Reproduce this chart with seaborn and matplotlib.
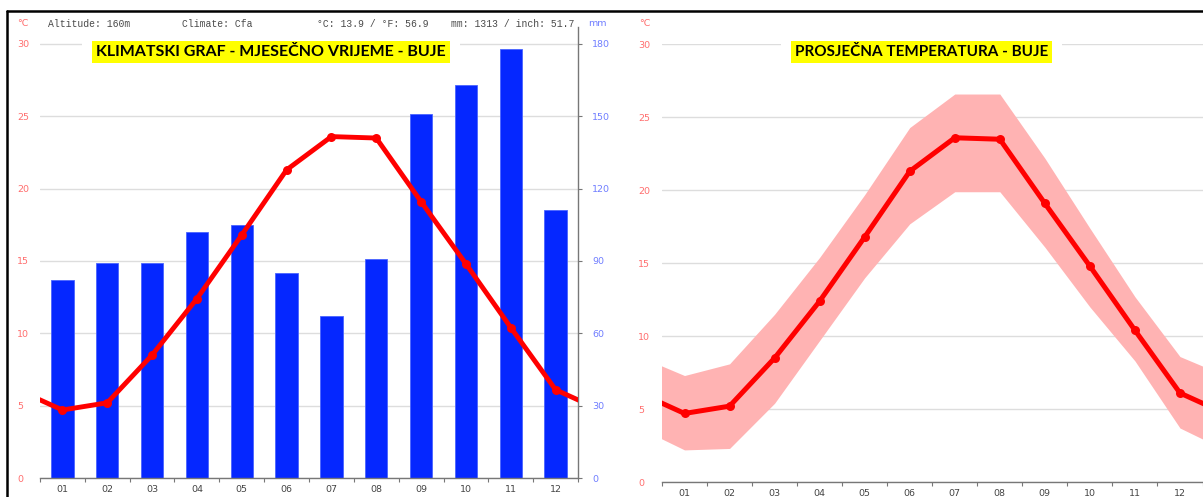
import matplotlib
matplotlib.use("Agg")
import matplotlib.pyplot as plt
from matplotlib.lines import Line2D
import seaborn as sns

# ---- data -------------------------------------------------------------
months = ["01", "02", "03", "04", "05", "06", "07", "08", "09", "10", "11", "12"]
temp_mean = [4.7, 5.2, 8.5, 12.4, 16.8, 21.3, 23.6, 23.5, 19.1, 14.8, 10.4, 6.1]
temp_min = [2.2, 2.3, 5.4, 9.7, 14.0, 17.7, 19.9, 19.9, 16.1, 12.0, 8.3, 3.7]
temp_max = [7.3, 8.1, 11.5, 15.4, 19.7, 24.3, 26.6, 26.6, 22.2, 17.4, 12.7, 8.6]
precip_mm = [82, 89, 89, 102, 105, 85, 67, 91, 151, 163, 178, 111]

temp_ticks = [0, 5, 10, 15, 20, 25, 30]
precip_ticks = [0, 30, 60, 90, 120, 150, 180]
header_items = ["Altitude: 160m", "Climate: Cfa", "°C: 13.9 / °F: 56.9", "mm: 1313 / inch: 51.7"]
title_left = "KLIMATSKI GRAF - MJESEČNO VRIJEME - BUJE"
title_right = "PROSJEČNA TEMPERATURA - BUJE"

# ---- style ------------------------------------------------------------
sns.set_theme(style="white")
plt.rcParams["font.family"] = ["DejaVu Sans"]

RED = "#ff0000"
BAND = "#ffb3b3"
BLUE = "#0527ff"
TEMP_LBL = "#ff6e6e"
MM_LBL = "#6f7dff"
AXIS = "#777777"
GRID = "#dddddd"
TXT = "#4a4a4a"
TICK_FS = 6.8

W, H = 1203, 497
fig = plt.figure(figsize=(W / 100, H / 100), dpi=100, facecolor="white")


def box(x0, x1, y_top, y_bottom):
    """Axes rectangle from pixel edges (y measured from the top)."""
    return [x0 / W, 1 - y_bottom / H, (x1 - x0) / W, (y_bottom - y_top) / H]


# cyclic continuation so the curves run to the plot edges
ext_x = [-1] + list(range(12)) + [12]


def wrap(vals):
    return [vals[-1]] + list(vals) + [vals[0]]


def style_x(ax):
    ax.set_xlim(-0.5, 11.5)
    ax.set_xticks(range(12))
    ax.set_xticklabels(months)
    ax.set_xticks([i - 0.5 for i in range(13)], minor=True)
    ax.tick_params(axis="x", which="major", length=0, pad=5, labelsize=TICK_FS, labelcolor="#444444")
    ax.tick_params(axis="x", which="minor", length=3, width=0.8, color=AXIS, direction="out", bottom=True)
    ax.spines["bottom"].set_color(AXIS)
    ax.spines["bottom"].set_linewidth(1.0)
    ax.set_xlabel("")


# ---- left: precipitation bars + mean temperature ----------------------
t_top = 30 * (478 - 27) / (478 - 44)
ax = fig.add_axes(box(40, 578, 27, 478))
ax_t = ax.twinx()

sns.barplot(x=months, y=precip_mm, ax=ax, color=BLUE, saturation=1, width=0.5,
            edgecolor="#4a64ff", linewidth=0.6)
ax.set_ylim(0, t_top * 6)
ax.set_yticks(precip_ticks)
ax.yaxis.tick_right()
ax.tick_params(axis="y", length=3, width=0.8, color=AXIS, direction="out", pad=7,
               labelsize=TICK_FS, labelcolor=MM_LBL, right=True, left=False)
ax.yaxis.grid(True, color=GRID, linewidth=1)
ax.set_axisbelow(True)
for s in ("left", "top"):
    ax.spines[s].set_visible(False)
ax.spines["right"].set_color(AXIS)
ax.spines["right"].set_linewidth(1.0)
ax.set_ylabel("")

sns.lineplot(x=ext_x, y=wrap(temp_mean), ax=ax_t, color=RED, linewidth=3.5, sort=False)
sns.scatterplot(x=list(range(12)), y=temp_mean, ax=ax_t, color=RED, s=42,
                edgecolor=RED, linewidth=0, zorder=5)
ax_t.set_ylim(0, t_top)
ax_t.set_yticks(temp_ticks)
ax_t.yaxis.tick_left()
ax_t.tick_params(axis="y", length=0, pad=16.5, labelsize=TICK_FS, labelcolor=TEMP_LBL,
                 left=True, right=False)
plt.setp(ax_t.get_yticklabels(), ha="left")
for s in ax_t.spines.values():
    s.set_visible(False)
ax_t.set_ylabel("")
style_x(ax)

# ---- right: temperature range band + mean -----------------------------
ax_r = fig.add_axes(box(662, 1202.5, 43.7, 482))
ax_r.fill_between(ext_x, wrap(temp_min), wrap(temp_max), color=BAND, linewidth=0, zorder=1)
sns.lineplot(x=ext_x, y=wrap(temp_mean), ax=ax_r, color=RED, linewidth=3.6, sort=False, zorder=3)
sns.scatterplot(x=list(range(12)), y=temp_mean, ax=ax_r, color=RED, s=42,
                edgecolor=RED, linewidth=0, zorder=4)
ax_r.set_ylim(0, 30.05)
ax_r.set_yticks(temp_ticks)
ax_r.yaxis.grid(True, color=GRID, linewidth=1)
ax_r.set_axisbelow(True)
ax_r.tick_params(axis="y", length=0, pad=17.3, labelsize=TICK_FS, labelcolor=TEMP_LBL)
plt.setp(ax_r.get_yticklabels(), ha="left")
for s in ("left", "top", "right"):
    ax_r.spines[s].set_visible(False)
ax_r.set_ylabel("")
style_x(ax_r)

# ---- header texts -----------------------------------------------------
def fy(y):
    return 1 - y / H


fig.text(17 / W, fy(23), "°C", fontsize=TICK_FS, color=TEMP_LBL, va="center", ha="left")
fig.text(639 / W, fy(23), "°C", fontsize=TICK_FS, color=TEMP_LBL, va="center", ha="left")
fig.text(588 / W, fy(24), "mm", fontsize=TICK_FS, color=MM_LBL, va="center", ha="left")
for x0, txt in zip([48, 182, 317, 451], header_items):
    fig.text(x0 / W, fy(24), txt, fontsize=7, color=TXT, va="center", ha="left",
             family=["Liberation Mono", "DejaVu Sans Mono"])

# titles: yellow label on a white margin that interrupts the top grid line
for cx, txt, fs in [(271, title_left, 11.5), (921.5, title_right, 11.0)]:
    kw = dict(fontsize=fs, fontweight="bold", va="center", ha="center",
              family=["Lato", "DejaVu Sans"])
    fig.text(cx / W, fy(52), txt, color=(0, 0, 0, 0),
             bbox=dict(boxstyle="square,pad=0.9", fc="white", ec="none"), **kw)
    fig.text(cx / W, fy(52), txt, color="black",
             bbox=dict(boxstyle="square,pad=0.28", fc="#ffff00", ec="none"), **kw)

# frame lines along top and left edge
fig.add_artist(Line2D([7 / W, 1], [fy(11), fy(11)], color="black", linewidth=1.8))
fig.add_artist(Line2D([7 / W, 7 / W], [fy(11), 0], color="black", linewidth=1.8))

fig.savefig("out.png", dpi=100, facecolor="white")
